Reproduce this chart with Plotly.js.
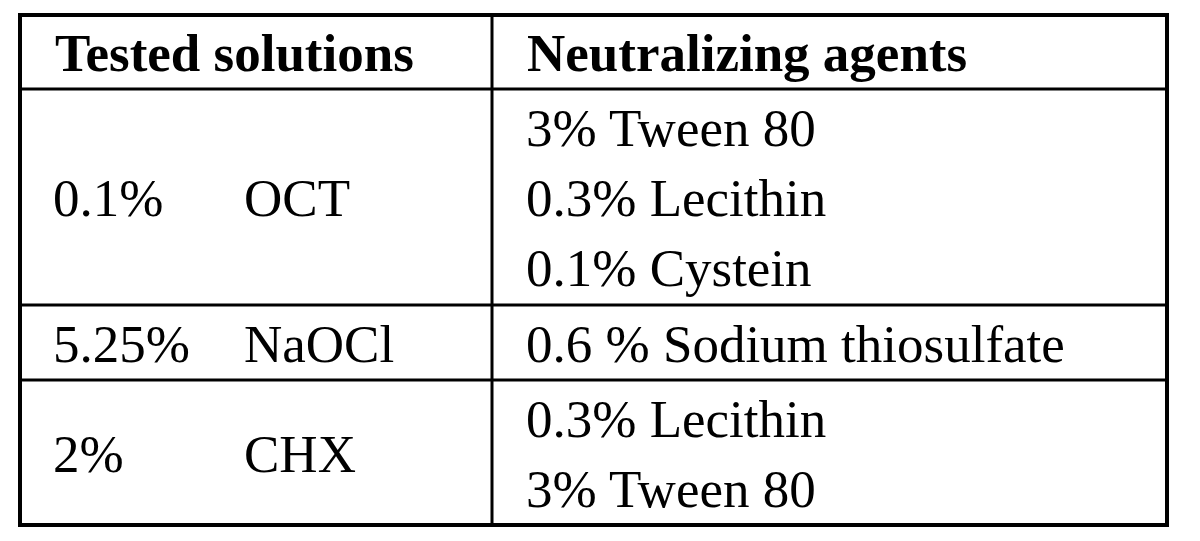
<!DOCTYPE html>
<html>
<head>
<meta charset="utf-8">
<script src="https://cdn.plot.ly/plotly-3.0.1.min.js"></script>
<style>
  html, body { margin: 0; padding: 0; background: #ffffff; }
  #chart { width: 1200px; height: 541px; }
</style>
</head>
<body>
<div id="chart"></div>
<script>
// ---- table content ----
const headers = ['Tested solutions', 'Neutralizing agents'];
const testedConcentrations = ['0.1%', '5.25%', '2%'];
const testedAgents = ['OCT', 'NaOCl', 'CHX'];
const neutralizingAgents = [
  ['3% Tween 80', '0.3% Lecithin', '0.1% Cystein'],
  ['0.6 % Sodium thiosulfate'],
  ['0.3% Lecithin', '3% Tween 80']
];

// ---- layout geometry (pixels in a 1200x541 frame) ----
const rowEdges = [15, 89, 305, 380, 525];     // header + 3 body rows
const colEdges = [20, 492, 1167];
const textX = { conc: 53, agent: 244, neut: 526, header0: 55, header1: 527 };
const lineStep = 70;
const textShift = 6;
const fontFamily = '"Liberation Serif", "Times New Roman", Times, serif';
const fontSize = 53;

function rowCenter(i) { return (rowEdges[i] + rowEdges[i + 1]) / 2 + textShift; }

// header text
const hdrX = [textX.header0, textX.header1];
const hdrY = headers.map(() => rowCenter(0));

// left column texts
const concX = [], concY = [], agentX = [], agentY = [];
testedConcentrations.forEach((c, i) => {
  concX.push(textX.conc); concY.push(rowCenter(i + 1));
  agentX.push(textX.agent); agentY.push(rowCenter(i + 1));
});

// right column texts
const nX = [], nY = [], nT = [];
neutralizingAgents.forEach((list, i) => {
  const c = rowCenter(i + 1);
  list.forEach((t, j) => {
    nX.push(textX.neut);
    nY.push(c + (j - (list.length - 1) / 2) * lineStep);
    nT.push(t);
  });
});

const textFont = { family: fontFamily, size: fontSize, color: '#000000' };

const traces = [
  { type: 'scatter', mode: 'text', x: hdrX, y: hdrY, text: headers.map(h => '<b>' + h + '</b>'),
    textposition: 'middle right', textfont: textFont, cliponaxis: false, hoverinfo: 'skip', showlegend: false },
  { type: 'scatter', mode: 'text', x: concX, y: concY, text: testedConcentrations,
    textposition: 'middle right', textfont: textFont, cliponaxis: false, hoverinfo: 'skip', showlegend: false },
  { type: 'scatter', mode: 'text', x: agentX, y: agentY, text: testedAgents,
    textposition: 'middle right', textfont: textFont, cliponaxis: false, hoverinfo: 'skip', showlegend: false },
  { type: 'scatter', mode: 'text', x: nX, y: nY, text: nT,
    textposition: 'middle right', textfont: textFont, cliponaxis: false, hoverinfo: 'skip', showlegend: false }
];

// grid lines
const shapes = [];
const lineColor = '#000000';
shapes.push({ type: 'rect', xref: 'x', yref: 'y', x0: colEdges[0], x1: colEdges[2], y0: rowEdges[0], y1: rowEdges[rowEdges.length - 1],
  line: { color: lineColor, width: 4 }, fillcolor: 'rgba(0,0,0,0)' });
for (let i = 1; i < rowEdges.length - 1; i++) {
  shapes.push({ type: 'line', xref: 'x', yref: 'y', x0: colEdges[0], x1: colEdges[2], y0: rowEdges[i], y1: rowEdges[i],
    line: { color: lineColor, width: 3 } });
}
shapes.push({ type: 'line', xref: 'x', yref: 'y', x0: colEdges[1], x1: colEdges[1], y0: rowEdges[0], y1: rowEdges[rowEdges.length - 1],
  line: { color: lineColor, width: 3 } });

const layout = {
  width: 1200, height: 541,
  margin: { l: 0, r: 0, t: 0, b: 0, pad: 0 },
  paper_bgcolor: '#ffffff', plot_bgcolor: '#ffffff',
  xaxis: { range: [0, 1200], visible: false, fixedrange: true },
  yaxis: { range: [541, 0], visible: false, fixedrange: true },
  shapes: shapes,
  showlegend: false,
  hovermode: false
};

Plotly.newPlot('chart', traces, layout, { staticPlot: true, displayModeBar: false });
</script>
</body>
</html>
